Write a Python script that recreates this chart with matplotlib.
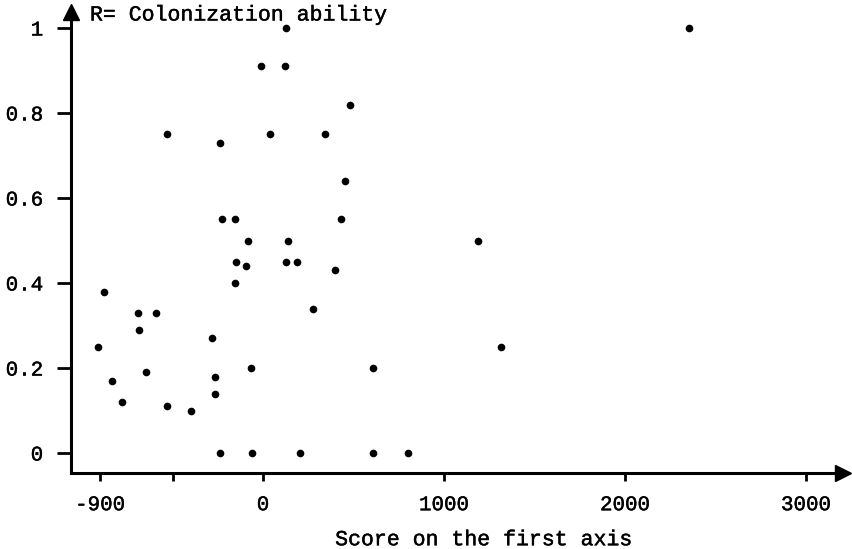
import matplotlib
matplotlib.use('Agg')
import matplotlib.pyplot as plt
import matplotlib.patheffects as pe

# scores on the first axis and colonization ability R
score = [125, -9, 123, 479, -532, -238, 37, 341, 455, -227, -153, 433,
         -83, 138, -149, -94, 127, 186, 396, -155, -877, -691, -591, 274,
         -685, -280, -912, -645, -68, 608, -263, -836, -781, -267, -532, -398,
         -238, -62, 204, 608, 803, 1190, 1315, 2355]
r_val = [1.0, 0.91, 0.91, 0.82, 0.75, 0.73, 0.75, 0.75, 0.64, 0.55, 0.55, 0.55,
         0.50, 0.50, 0.45, 0.44, 0.45, 0.45, 0.43, 0.40, 0.38, 0.33, 0.33, 0.34,
         0.29, 0.27, 0.25, 0.19, 0.20, 0.20, 0.18, 0.17, 0.12, 0.14, 0.11, 0.10,
         0.0, 0.0, 0.0, 0.0, 0.0, 0.50, 0.25, 1.0]

xticks = [-900, -500, 0, 1000, 2000, 3000]
xtick_labels = ['-900', '', '0', '1000', '2000', '3000']
yticks = [0, 0.2, 0.4, 0.6, 0.8, 1.0]
ytick_labels = ['0', '0.2', '0.4', '0.6', '0.8', '1']

plt.rcParams['font.family'] = ['Liberation Mono', 'DejaVu Sans Mono']
thick = [pe.withStroke(linewidth=0.3, foreground='black')]

fig = plt.figure(figsize=(8.53, 5.49), dpi=100)
ax = fig.add_axes([0.0832, 0.1384, 0.905, 0.8397])

ax.plot(score, r_val, 'o', color='black', markersize=5.5, markeredgewidth=0)

ax.set_xlim(-1061, 3204)
ax.set_ylim(-0.047, 1.0376)

ax.spines['top'].set_visible(False)
ax.spines['right'].set_visible(False)
for s in ['left', 'bottom']:
    ax.spines[s].set_linewidth(2.2)

# arrow heads
ax.plot(1, 0, '>', color='black', markersize=11, transform=ax.transAxes, clip_on=False)
ax.plot(0, 1, '^', color='black', markersize=11, transform=ax.transAxes, clip_on=False)

ax.set_xticks(xticks)
ax.set_xticklabels(xtick_labels)
ax.set_yticks(yticks)
ax.set_yticklabels(ytick_labels)
ax.tick_params(axis='x', length=6, width=2, pad=10, labelsize=15)
ax.tick_params(axis='y', length=10, width=2, pad=10, labelsize=15)
for lab in ax.get_xticklabels() + ax.get_yticklabels():
    lab.set_path_effects(thick)

ax.set_xlabel('Score on the first axis', fontsize=15.5, path_effects=thick)
ax.xaxis.set_label_coords(0.534, -0.122)
ax.set_ylabel('R= Colonization ability', fontsize=15.5, rotation=0, ha='left', va='center',
              path_effects=thick)
ax.yaxis.set_label_coords(0.0246, 0.9935)

fig.savefig('out.png', dpi=100)
